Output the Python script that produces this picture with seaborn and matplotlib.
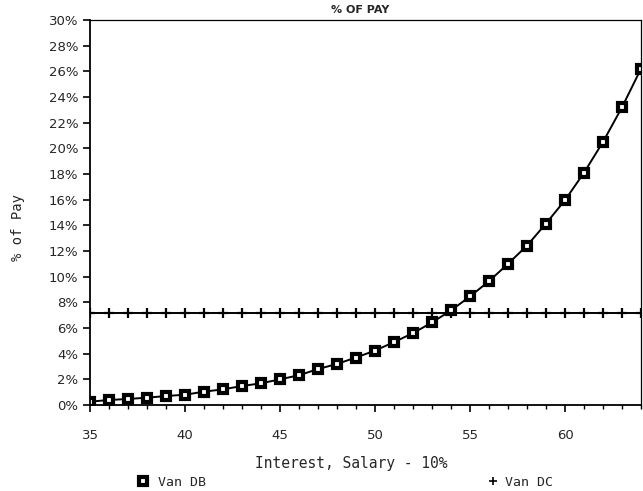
import matplotlib as mpl
import matplotlib.pyplot as plt
import numpy as np
import pandas as pd
import seaborn as sns
from matplotlib.lines import Line2D
from matplotlib.ticker import MultipleLocator, FuncFormatter

sns.set_style('white')
mpl.rcParams['font.family'] = ['DejaVu Sans']

# values
interest = list(range(35, 65))
van_db = [0.26, 0.39, 0.47, 0.57, 0.70, 0.80, 1.04, 1.22, 1.48, 1.69,
          2.00, 2.32, 2.80, 3.20, 3.70, 4.24, 4.90, 5.60, 6.43, 7.37,
          8.46, 9.65, 11.0, 12.42, 14.14, 15.96, 18.1, 20.5, 23.2, 26.2]
van_dc = [7.2] * len(interest)
y_ticks = list(range(0, 31, 2))
x_ticks = [35, 40, 45, 50, 55, 60]

df = pd.DataFrame({'Interest': interest, 'Van DB': van_db, 'Van DC': van_dc})

fig = plt.figure(figsize=(6.43, 4.91), dpi=100)
ax = fig.add_axes([90 / 643, 1 - 405 / 491, 551 / 643, 385 / 491])

# seaborn defaults marker edges to white, so set them black explicitly
sns.lineplot(data=df, x='Interest', y='Van DC', ax=ax, color='black', lw=1.4,
             marker='+', markersize=7, markeredgecolor='black',
             markeredgewidth=1.6, legend=False)
sns.lineplot(data=df, x='Interest', y='Van DB', ax=ax, color='black', lw=1.4,
             marker='s', markersize=5.5, markerfacecolor='white',
             markeredgecolor='black', markeredgewidth=3, legend=False)

ax.set_xlim(35, 64)
ax.set_ylim(0, 30)
ax.set_xticks(x_ticks)
ax.xaxis.set_minor_locator(MultipleLocator(1))
ax.set_yticks(y_ticks)
ax.yaxis.set_major_formatter(FuncFormatter(lambda v, p: f'{int(v)}%'))
ax.tick_params(axis='both', which='major', direction='out', length=5, width=1.2,
               labelsize=9.5, color='black', bottom=True, left=True)
ax.tick_params(axis='x', which='minor', direction='out', length=3, width=1,
               bottom=True, color='black')
ax.tick_params(axis='x', pad=12)
for s in ax.spines.values():
    s.set_color('black')
    s.set_linewidth(1.3)
for s in ['top', 'right']:
    ax.spines[s].set_linewidth(0.9)

ax.set_xlabel('Interest, Salary - 10%', family='DejaVu Sans Mono', fontsize=10.5)
ax.xaxis.set_label_coords(0.474, -0.133)
ax.set_ylabel('% of Pay', family='DejaVu Sans Mono', fontsize=10)
ax.yaxis.set_label_coords(-0.118, 0.46)
ax.set_title('% OF PAY', fontsize=8, fontweight='heavy', pad=5, x=0.49)

h_db = Line2D([], [], color='black', ls='none', marker='s', markersize=5.5,
              markerfacecolor='white', markeredgewidth=3)
h_dc = Line2D([], [], color='black', ls='none', marker='+', markersize=6,
              markeredgewidth=1.2)
fig.legend([h_db], ['Van DB'], loc='center left', frameon=False,
           bbox_to_anchor=(125 / 643, 1 - 482 / 491), handlelength=1,
           handletextpad=0.6, prop={'family': 'DejaVu Sans Mono', 'size': 9.5})
fig.legend([h_dc], ['Van DC'], loc='center left', frameon=False,
           bbox_to_anchor=(475 / 643, 1 - 482 / 491), handlelength=1,
           handletextpad=0.4, prop={'family': 'DejaVu Sans Mono', 'size': 9.5})

fig.savefig('out.png', dpi=100, facecolor='w')
